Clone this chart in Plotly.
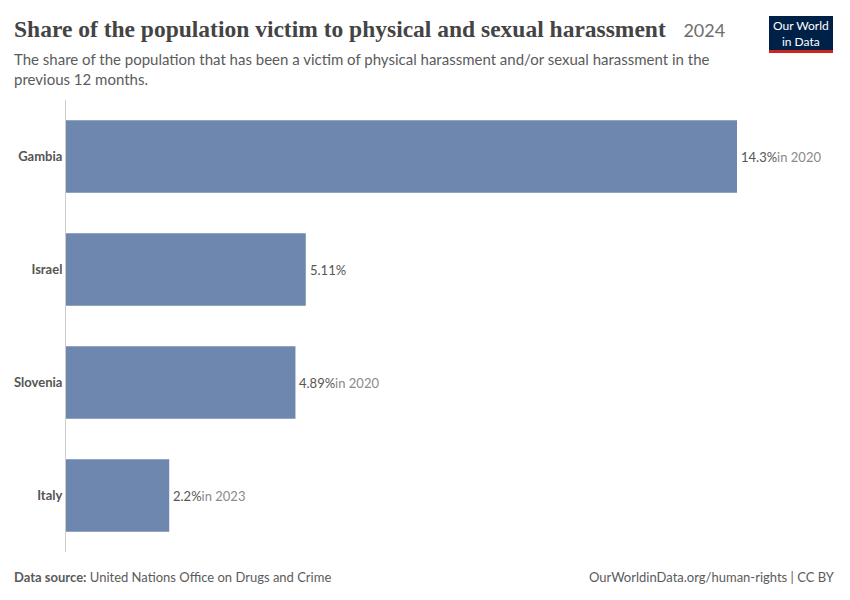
import plotly.graph_objects as go

# Data
countries = ['Gambia', 'Israel', 'Slovenia', 'Italy']
shares = [14.3, 5.11, 4.89, 2.2]
value_labels = ['14.3%', '5.11%', '4.89%', '2.2%']
year_notes = ['in 2020', '', 'in 2020', 'in 2023']

# page has an 8px body margin, so the figure is a bit smaller than the window
OFF = 8
W, H = 850 - OFF, 600 - OFF
LEFT, RIGHT, TOP, BOTTOM = 66 - OFF, 113, 100 - OFF, 48
plot_w = W - LEFT - RIGHT
plot_h = H - TOP - BOTTOM


def px_x(px):
    # screen pixel -> paper x
    return (px - OFF - LEFT) / plot_w


def px_y(py):
    # screen pixel -> paper y
    return (H - BOTTOM - (py - OFF)) / plot_h


fig = go.Figure()

fig.add_trace(go.Bar(
    y=countries,
    x=shares,
    orientation='h',
    marker=dict(color='#6d87ae', line=dict(width=0)),
    hoverinfo='skip',
))

# Value labels at the end of each bar
for country, val, lab, note in zip(countries, shares, value_labels, year_notes):
    text = f"<span style='color:#555555'>{lab}</span>"
    if note:
        text += f"<span style='color:#8a8a8a'>{note}</span>"
    fig.add_annotation(
        x=val, y=country, xref='x', yref='y',
        text=text, showarrow=False, xanchor='left', xshift=2,
        font=dict(family='Lato', size=13),
    )

# Title, subtitle and footer
fig.add_annotation(
    x=px_x(12), y=px_y(29), xref='paper', yref='paper',
    text="<b style='color:#444444'>Share of the population victim to physical and sexual harassment</b>"
         "&nbsp;&nbsp;&nbsp;<span style='font-family:Lato;font-size:18px;color:#6e6e6e'>2024</span>",
    showarrow=False, xanchor='left', yanchor='middle',
    font=dict(family='Liberation Serif', size=23.5),
)
fig.add_annotation(
    x=px_x(12), y=px_y(48), xref='paper', yref='paper',
    text="The share of the population that has been a victim of physical harassment and/or sexual harassment in the<br>previous 12 months.",
    showarrow=False, xanchor='left', yanchor='top', align='left',
    font=dict(family='Lato', size=15, color='#5b5b5b'),
)
fig.add_annotation(
    x=px_x(12), y=px_y(577), xref='paper', yref='paper',
    text="<b>Data source:</b> United Nations Office on Drugs and Crime",
    showarrow=False, xanchor='left', yanchor='middle',
    font=dict(family='Lato', size=13, color='#5b5b5b'),
)
fig.add_annotation(
    x=px_x(837), y=px_y(577), xref='paper', yref='paper',
    text="OurWorldinData.org/human-rights | CC BY",
    showarrow=False, xanchor='right', yanchor='middle',
    font=dict(family='Lato', size=13, color='#5b5b5b'),
)

# OWID logo box
fig.add_shape(type='rect', xref='paper', yref='paper',
              x0=px_x(769), x1=px_x(833), y0=px_y(50), y1=px_y(16),
              fillcolor='#002147', line=dict(width=0), layer='above')
fig.add_shape(type='rect', xref='paper', yref='paper',
              x0=px_x(769), x1=px_x(833), y0=px_y(53), y1=px_y(50),
              fillcolor='#ce261e', line=dict(width=0), layer='above')
fig.add_annotation(
    x=px_x(801), y=px_y(33), xref='paper', yref='paper',
    text="Our World<br>in Data", showarrow=False,
    xanchor='center', yanchor='middle',
    font=dict(family='Lato', size=12, color='white'),
)

fig.update_layout(
    width=W, height=H,
    margin=dict(l=LEFT, r=RIGHT, t=TOP, b=BOTTOM),
    paper_bgcolor='white',
    plot_bgcolor='white',
    showlegend=False,
    bargap=0.36,
    xaxis=dict(range=[0, 14.3], showgrid=False, zeroline=False,
               showticklabels=False, fixedrange=True, automargin=False),
    yaxis=dict(autorange='reversed', showline=True, linecolor='#cccccc',
               linewidth=1, ticks='', ticklabelstandoff=0, automargin=False,
               tickvals=countries,
               ticktext=[f'<b>{c}</b>' for c in countries],
               tickfont=dict(family='Lato', size=13, color='#555555')),
)

fig.write_html("out.html")
